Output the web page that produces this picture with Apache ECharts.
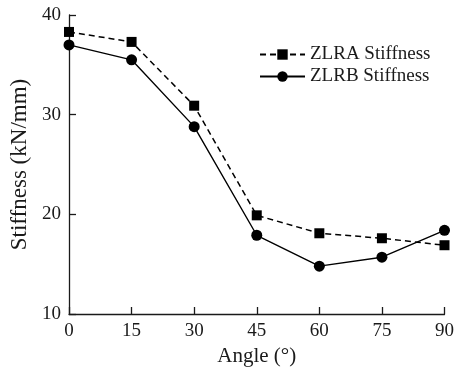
<!DOCTYPE html>
<html>
<head>
<meta charset="utf-8">
<script src="https://cdn.jsdelivr.net/npm/echarts@6/dist/echarts.min.js"></script>
<style>
  html, body { margin: 0; padding: 0; background: #fff; }
  #chart { width: 457px; height: 374px; }
</style>
</head>
<body>
<div id="chart"></div>
<script>
// Stiffness of the two bearing types versus loading angle
const angles = [0, 15, 30, 45, 60, 75, 90];
const zlraStiffness = [38.3, 37.3, 30.9, 19.9, 18.1, 17.6, 16.9];
const zlrbStiffness = [37.0, 35.5, 28.8, 17.9, 14.8, 15.7, 18.4];
const seriesNames = ['ZLRA Stiffness', 'ZLRB Stiffness'];

const font = 'Liberation Serif, Times New Roman, serif';
const ink = '#1a1a1a';

const pairs = (xs, ys) => xs.map((x, i) => [x, ys[i]]);

const chart = echarts.init(document.getElementById('chart'), null, { renderer: 'canvas' });
chart.setOption({
  animation: false,
  backgroundColor: '#fff',
  grid: { left: 69, right: 10, top: 15, bottom: 60 },
  legend: {
    orient: 'vertical',
    left: 254,
    top: 40,
    itemWidth: 45,
    itemHeight: 13,
    itemGap: 3,
    textStyle: { fontFamily: font, fontSize: 19, color: ink },
    data: seriesNames
  },
  xAxis: {
    type: 'value',
    min: 0, max: 90, interval: 15,
    name: 'Angle (°)',
    nameLocation: 'middle',
    nameGap: 30,
    nameTextStyle: { fontFamily: font, fontSize: 21, color: ink },
    axisLine: { show: true, lineStyle: { color: ink, width: 1.3 } },
    axisTick: { show: true, inside: true, length: 7, lineStyle: { color: ink, width: 1.3 } },
    axisLabel: { margin: 8, fontFamily: font, fontSize: 19, color: ink },
    splitLine: { show: false }
  },
  yAxis: {
    type: 'value',
    min: 10, max: 40, interval: 10,
    name: 'Stiffness (kN/mm)',
    nameLocation: 'middle',
    nameRotate: 90,
    nameGap: 38,
    nameTextStyle: { fontFamily: font, fontSize: 23, color: ink },
    axisLine: { show: true, lineStyle: { color: ink, width: 1.3 } },
    axisTick: { show: true, inside: true, length: 7, lineStyle: { color: ink, width: 1.3 } },
    axisLabel: { margin: 8, fontFamily: font, fontSize: 19, color: ink },
    splitLine: { show: false }
  },
  series: [
    {
      name: seriesNames[0],
      type: 'line',
      data: pairs(angles, zlraStiffness),
      symbol: 'rect',
      symbolSize: 10,
      itemStyle: { color: '#000' },
      lineStyle: { color: '#000', width: 1.5, type: [6, 4] }
    },
    {
      name: seriesNames[1],
      type: 'line',
      data: pairs(angles, zlrbStiffness),
      symbol: 'circle',
      symbolSize: 11,
      itemStyle: { color: '#000' },
      lineStyle: { color: '#000', width: 1.4, type: 'solid' }
    }
  ]
});
</script>
</body>
</html>
